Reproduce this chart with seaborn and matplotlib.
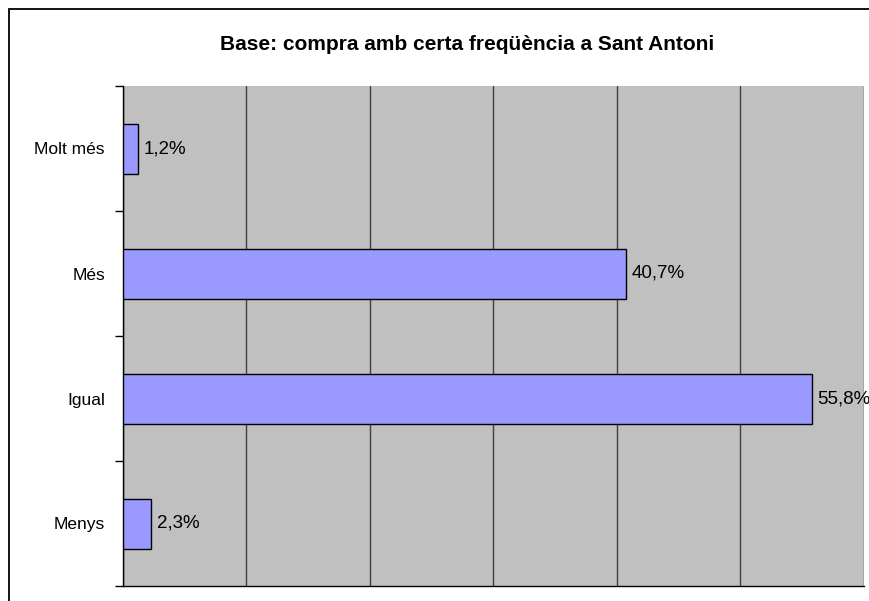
import matplotlib
matplotlib.use("Agg")
import matplotlib.pyplot as plt
import seaborn as sns
import pandas as pd
from matplotlib.patches import Rectangle
from matplotlib.ticker import MultipleLocator, FixedLocator

categories = ["Molt més", "Més", "Igual", "Menys"]
values = [1.2, 40.7, 55.8, 2.3]
labels = ["1,2%", "40,7%", "55,8%", "2,3%"]
title = "Base: compra amb certa freqüència a Sant Antoni"

sns.set_theme(style="white")
plt.rcParams["font.family"] = ["Liberation Sans", "DejaVu Sans"]

df = pd.DataFrame({"cat": categories, "val": values})

W, H = 870, 601
fig = plt.figure(figsize=(W / 100, H / 100), dpi=100)
fig.patch.set_facecolor("white")

# outer chart frame (continues past the right and bottom edges)
fig.patches.append(Rectangle((9 / W, -0.1), 1.2, 1 - 9 / H + 0.1, transform=fig.transFigure,
                             fill=False, edgecolor="black", linewidth=1.3, zorder=0))

ax = fig.add_axes([123 / W, 1 - 586 / H, (864 - 123) / W, (586 - 86) / H])
ax.set_facecolor("#C0C0C0")

sns.barplot(data=df, x="val", y="cat", order=categories, orient="h", ax=ax,
            color="#9999FF", edgecolor="black", linewidth=1.0, width=0.4,
            saturation=1, zorder=3)

ax.set_xlim(0, 60)
ax.set_ylim(3.5, -0.5)
ax.xaxis.set_major_locator(MultipleLocator(10))
ax.grid(axis="x", color="#404040", linewidth=1.0, zorder=1)
ax.set_axisbelow(True)
ax.set_xticklabels([])
ax.tick_params(axis="x", length=0)

ax.yaxis.set_minor_locator(FixedLocator([-0.5, 0.5, 1.5, 2.5, 3.5]))
ax.tick_params(axis="y", which="major", length=0, pad=13, labelsize=12.5, labelcolor="black")
ax.tick_params(axis="y", which="minor", length=6, width=1, color="black", left=True)
ax.set_xlabel("")
ax.set_ylabel("")

for side in ["top", "right"]:
    ax.spines[side].set_visible(False)
for side in ["left", "bottom"]:
    ax.spines[side].set_color("black")
    ax.spines[side].set_linewidth(1.0)

for i, (v, lab) in enumerate(zip(values, labels)):
    ax.annotate(lab, (v, i), xytext=(4, 0), textcoords="offset points",
                ha="left", va="center", fontsize=13.5, color="black", zorder=5,
                annotation_clip=False)

fig.text(467 / W, 1 - 45 / H, title, ha="center", va="center",
         fontsize=15, fontweight="bold", color="black")

fig.savefig("out.png", dpi=100)
